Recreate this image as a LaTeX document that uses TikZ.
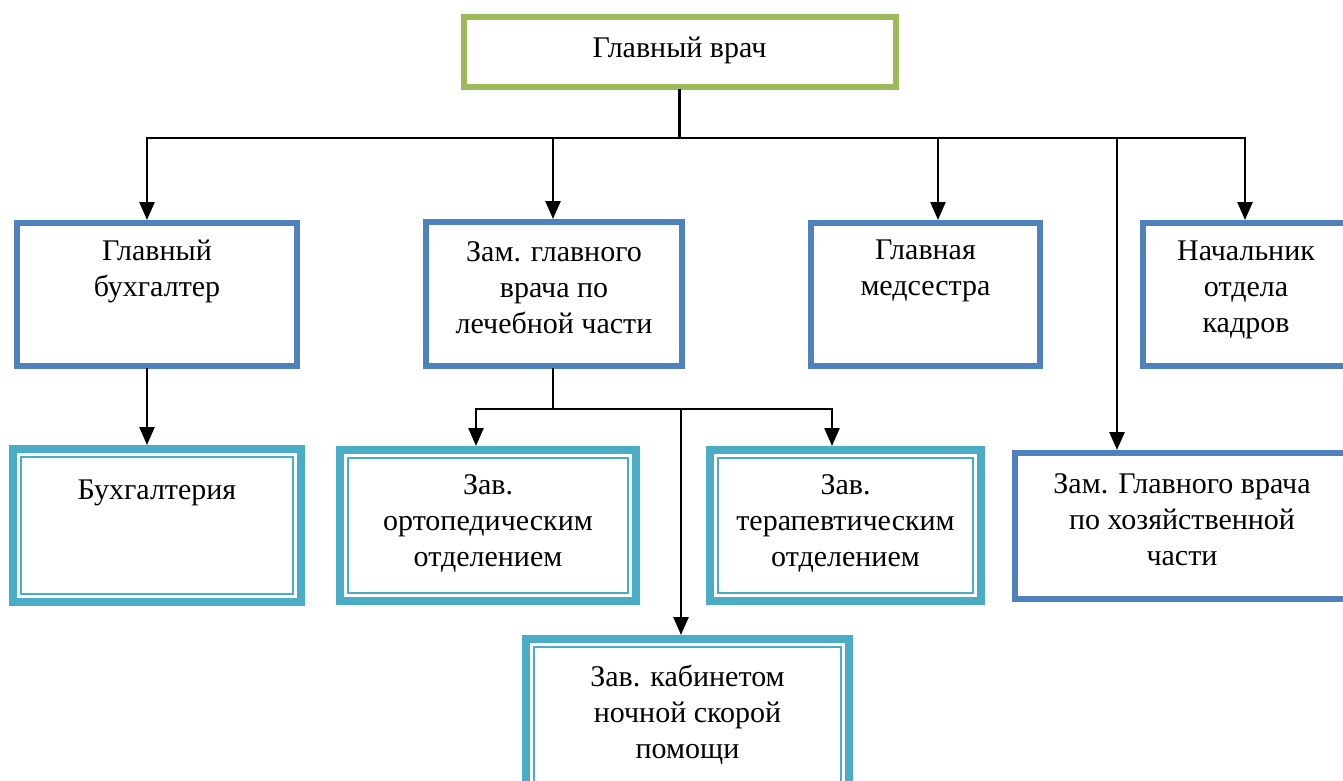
\documentclass[tikz,border=0pt]{standalone}
\usepackage{fontspec}
\setmainfont{Liberation Serif}
\usetikzlibrary{arrows.meta,positioning}
\definecolor{xanhla}{HTML}{9BBB59}
\definecolor{xanhduong}{HTML}{4F81BD}
\definecolor{xanhngoc}{HTML}{4BACC6}
\begin{document}
\begin{tikzpicture}[x=1pt, y=-1pt, font=\fontsize{30}{36}\selectfont, >={Triangle[length=18pt,width=15pt]},
		khung/.style={draw=#1, line width=6pt, inner sep=0pt},
		khungkep/.style={draw=xanhngoc, line width=8pt, inner sep=0pt},
		chu/.style={align=center, inner sep=0pt, execute at begin node=\strut},
		noi/.style={line width=2.5pt, line cap=rect}]
	\useasboundingbox (0,0) rectangle (1343,781);
	\node[khung=xanhla, minimum width=432pt, minimum height=70pt] (gv) at (679.5,52) {};
	\node[khung=xanhduong, minimum width=280pt, minimum height=143pt] (buh) at (157,294.5) {};
	\node[khung=xanhduong, minimum width=256pt, minimum height=144pt] (zam) at (554,294) {};
	\node[khung=xanhduong, minimum width=229pt, minimum height=143pt] (med) at (925.5,294.5) {};
	\node[khung=xanhduong, minimum width=206pt, minimum height=143pt] (kadr) at (1246,294.5) {};
	\node[khung=xanhduong, minimum width=334pt, minimum height=146pt] (hoz) at (1182,526) {};
	\node[khungkep, minimum width=288pt, minimum height=153pt] (buhg) at (157,525.5) {};
	\node[khungkep, minimum width=296pt, minimum height=151pt] (orto) at (488,525.5) {};
	\node[khungkep, minimum width=271pt, minimum height=151pt] (ter) at (845.5,525.5) {};
	\node[khungkep, minimum width=323pt, minimum height=152pt] (noch) at (687.5,715) {};
	\foreach \o in {buhg,orto,ter,noch}
		\draw[xanhngoc, line width=2pt] ([xshift=12pt,yshift=-12pt]\o.north west) rectangle ([xshift=-12pt,yshift=12pt]\o.south east);
	\node[chu, below=18pt of gv.north] (gv-t) {Главный врач};
	\node[chu, below=20pt of buh.north] (buh-t) {Главный\\бухгалтер};
	\node[chu, below=22pt of zam.north] (zam-t) {Зам. главного\\врача по\\лечебной части};
	\node[chu, below=20pt of med.north] (med-t) {Главная\\медсестра};
	\node[chu, below=21pt of kadr.north] (kadr-t) {Начальник\\отдела\\кадров};
	\node[chu, below=23pt of hoz.north] (hoz-t) {Зам. Главного врача\\по хозяйственной\\части};
	\node[chu, below=29pt of buhg.north] (buhg-t) {Бухгалтерия};
	\node[chu, below=28pt of orto.north] (orto-t) {Зав.\\ортопедическим\\отделением};
	\node[chu, below=28pt of ter.north] (ter-t) {Зав.\\терапевтическим\\отделением};
	\node[chu, below=30pt of noch.north] (noch-t) {Зав. кабинетом\\ночной скорой\\помощи};
	\coordinate (truc) at (147,138);
	\coordinate (trucb) at (1245,138);
	\draw[noi] (gv.south) -- (gv.south |- truc);
	\draw[noi] (truc) -- (trucb);
	\foreach \x/\o in {147/buh,553/zam,938/med,1117/hoz,1245/kadr}
		\draw[noi,->] (truc -| \x,0) -- (\o.north -| \x,0);
	\draw[noi,->] (buh.south -| truc) -- (buhg.north -| truc);
	\coordinate (truc2) at (476,409);
	\coordinate (truc2b) at (832,409);
	\draw[noi] (zam.south -| 553,0) -- (truc2 -| 553,0);
	\draw[noi] (truc2) -- (truc2b);
	\foreach \x/\o in {476/orto,681/noch,832/ter}
		\draw[noi,->] (truc2 -| \x,0) -- (\o.north -| \x,0);
\end{tikzpicture}
\end{document}
